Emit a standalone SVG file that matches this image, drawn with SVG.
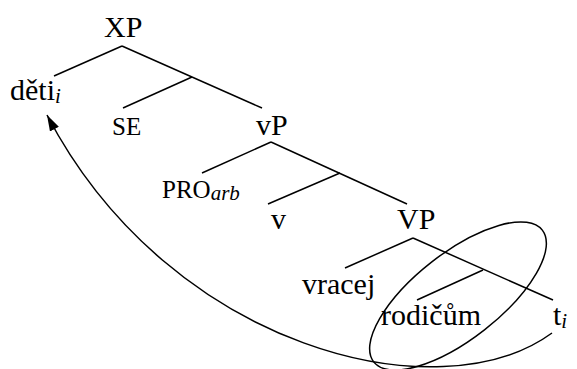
<svg xmlns="http://www.w3.org/2000/svg" width="577" height="369" viewBox="0 0 577 369">
<style>
.big{font-size:30px}
.sm{font-size:25px}
.sub{font-size:21px;font-style:italic}
.ln{stroke:#000;stroke-width:1.5;fill:none}
</style>
<defs>
<marker id="ah" viewBox="0 0 16 10" refX="16" refY="5" markerWidth="16" markerHeight="10" markerUnits="userSpaceOnUse" orient="auto">
<path d="M0,0 L16,5 L0,10 z" fill="#000"/>
</marker>
</defs>
<g id="connectors">
<line class="ln" x1="122" y1="46" x2="54" y2="76"/>
<line class="ln" x1="122" y1="46" x2="262" y2="108"/>
<line class="ln" x1="192" y1="77" x2="123" y2="108"/>
<line class="ln" x1="271" y1="142" x2="202" y2="173"/>
<line class="ln" x1="271" y1="142" x2="407" y2="204"/>
<line class="ln" x1="340" y1="173" x2="268" y2="204"/>
<line class="ln" x1="413" y1="238" x2="345" y2="268"/>
<line class="ln" x1="413" y1="238" x2="553" y2="300"/>
<line class="ln" x1="483" y1="270" x2="417" y2="300"/>
<path class="ln" d="M552,333 C440,415 170,350 47,115" marker-end="url(#ah)"/>
</g>
<g id="ellipse">
<ellipse class="ln" cx="458" cy="296" rx="107" ry="43" transform="rotate(-38 458 296)"/>
</g>
<g font-family="Liberation Serif" fill="#000">
<g id="XP"><text class="big" x="104" y="37">XP</text></g>
<g id="deti"><text class="big" x="10" y="100">děti<tspan class="sub" dy="3">i</tspan></text></g>
<g id="SE"><text class="sm" x="112" y="135">SE</text></g>
<g id="vP1"><text class="big" x="256" y="135">vP</text></g>
<g id="PRO"><text class="sm" x="162" y="198">PRO<tspan class="sub" dy="2">arb</tspan></text></g>
<g id="v"><text class="big" x="271" y="229">v</text></g>
<g id="VP"><text class="big" x="397" y="229">VP</text></g>
<g id="vracej"><text class="big" x="302" y="294">vracej</text></g>
<g id="rodicum"><text class="big" x="381" y="325">rodičům</text></g>
<g id="ti"><text class="big" x="553" y="325">t<tspan class="sub" dy="3">i</tspan></text></g>
</g>
</svg>
